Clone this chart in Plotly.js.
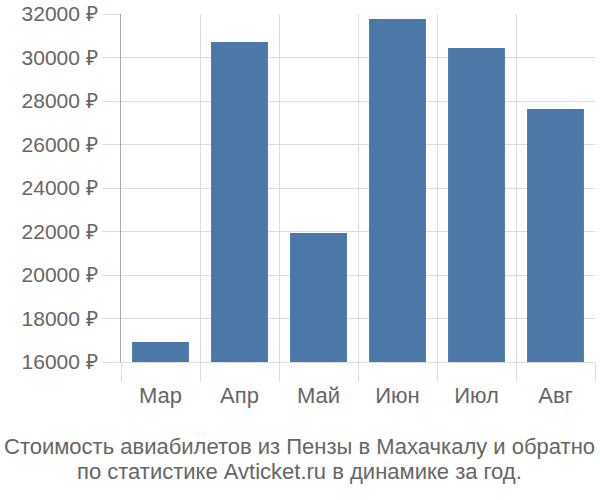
<!DOCTYPE html>
<html>
<head>
<meta charset="utf-8">
<script src="https://cdn.plot.ly/plotly-3.0.1.min.js"></script>
<style>
  body { margin: 0; background: #fff; }
  #chart { width: 600px; height: 500px; }
</style>
</head>
<body>
<div id="chart"></div>
<script>
const months = ["Мар", "Апр", "Май", "Июн", "Июл", "Авг"];
const prices = [16920, 30710, 21930, 31770, 30440, 27630];
const yTicks = [16000, 18000, 20000, 22000, 24000, 26000, 28000, 30000, 32000];

const titleLines = [
  "Стоимость авиабилетов из Пензы в Махачкалу и обратно",
  "по статистике Avticket.ru в динамике за год."
];

const textColor = "#666";
const gridColor = "#ddd";

// two caption lines under the chart, placed one by one for tighter spacing
const captionY = [-0.244, -0.316];
const captions = titleLines.map((t, i) => ({
  text: t,
  xref: "paper",
  yref: "paper",
  x: 0.3776,
  y: captionY[i],
  xanchor: "center",
  yanchor: "middle",
  showarrow: false,
  font: { size: 22, color: textColor }
}));

Plotly.newPlot("chart", [{
  x: months,
  y: prices,
  type: "bar",
  marker: { color: "#4c78a8" },
  hoverinfo: "none"
}], {
  width: 600,
  height: 500,
  margin: { l: 121, r: 5, t: 14, b: 138 },
  paper_bgcolor: "#fff",
  plot_bgcolor: "#fff",
  bargap: 0.28,
  font: { family: "Liberation Sans, Arial, sans-serif", size: 20, color: textColor },
  showlegend: false,
  xaxis: {
    tickson: "boundaries",
    ticks: "outside",
    ticklen: 19,
    tickcolor: gridColor,
    showgrid: true,
    gridcolor: gridColor,
    showline: true,
    linecolor: gridColor,
    ticklabelstandoff: 14,
    tickfont: { size: 22, color: textColor },
    fixedrange: true
  },
  yaxis: {
    range: [16000, 32000],
    tickvals: yTicks,
    ticktext: yTicks.map(v => v + " ₽"),
    ticks: "outside",
    ticklen: 18,
    tickcolor: gridColor,
    gridcolor: gridColor,
    showline: true,
    linecolor: "#aaa",
    zeroline: false,
    tickfont: { size: 21, color: textColor },
    fixedrange: true
  },
  annotations: captions
}, { displayModeBar: false, staticPlot: true });
</script>
</body>
</html>
